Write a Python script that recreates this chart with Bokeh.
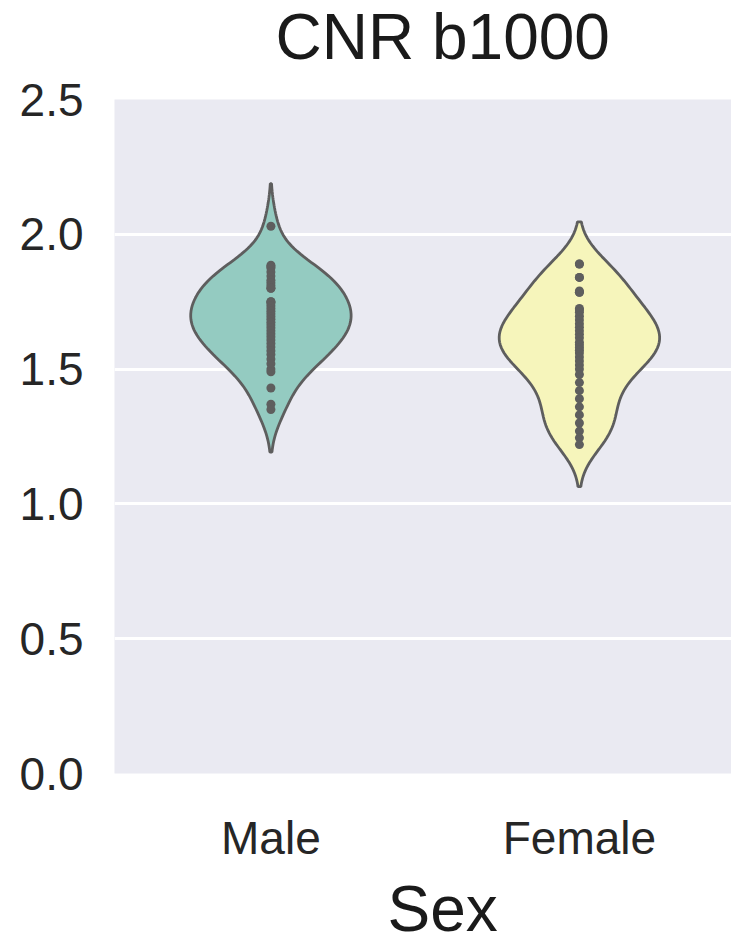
import numpy as np
from bokeh.plotting import figure
from bokeh.models import FixedTicker, NumeralTickFormatter, Title
from bokeh.embed import file_html
from bokeh.resources import INLINE

# ---------------- data ----------------
title_text = "CNR b1000"
x_label = "Sex"
categories = ["Male", "Female"]
y_ticks = [0.0, 0.5, 1.0, 1.5, 2.0, 2.5]

male_values = [2.03, 1.885, 1.88, 1.875, 1.86, 1.845, 1.83, 1.82, 1.81,
               1.80, 1.80, 1.75, 1.75, 1.745, 1.735, 1.725, 1.715,
               1.705, 1.695, 1.685, 1.674, 1.664, 1.653, 1.642, 1.631,
               1.62, 1.608, 1.595, 1.582, 1.568, 1.554, 1.537, 1.52,
               1.50, 1.49, 1.43, 1.37, 1.35]

female_values = [1.89, 1.89, 1.84, 1.84, 1.79, 1.785, 1.785,
                 1.725, 1.72, 1.711, 1.696, 1.682, 1.668, 1.655, 1.642,
                 1.629, 1.616, 1.60, 1.59, 1.58, 1.57, 1.56, 1.545, 1.53,
                 1.515, 1.50, 1.48, 1.45, 1.42, 1.39, 1.36, 1.33, 1.30,
                 1.27, 1.245, 1.22]

series = [male_values, female_values]
kde_bandwidths = [0.079, 0.078]
fill_colors = ["#94cbc1", "#f6f5bb"]
edge_gray = "#5e5e5e"


def kde(vals, bw, gridsize=100, cut=2.0):
    v = np.asarray(vals, dtype=float)
    support = np.linspace(v.min() - cut * bw, v.max() + cut * bw, gridsize)
    dens = np.exp(-0.5 * ((support[:, None] - v[None, :]) / bw) ** 2).sum(axis=1)
    return support, dens


W, H = 731, 950
p = figure(width=W, height=H,
           x_range=(-0.507, 1.493), y_range=(0, 2.5),
           output_backend="svg", toolbar_location=None,
           min_border_left=114, min_border_right=0,
           min_border_top=99, min_border_bottom=177,
           background_fill_color="#EAEAF2", border_fill_color="white",
           outline_line_color=None)

# title (outermost) with a blank spacer between it and the plot area
p.title = Title(text=title_text, align="left", offset=161, standoff=-8,
                text_font="Liberation Sans", text_font_size="64px",
                text_font_style="normal", text_color="#1a1a1a")
p.add_layout(Title(text=" ", text_font_size="14px", standoff=13), "above")

half_width = 0.26
for i, (vals, bw, col) in enumerate(zip(series, kde_bandwidths, fill_colors)):
    sup, dens = kde(vals, bw)
    w = dens / dens.max() * half_width
    xs = np.concatenate([i + w, (i - w)[::-1]])
    ys = np.concatenate([sup, sup[::-1]])
    p.patch(xs, ys, fill_color=col, line_color=edge_gray, line_width=2.8)
    p.scatter([i] * len(vals), vals, size=9, fill_color=edge_gray,
              line_color=None)

# grid
p.xgrid.grid_line_color = None
p.ygrid.grid_line_color = "white"
p.ygrid.grid_line_width = 3
p.ygrid.ticker = FixedTicker(ticks=y_ticks)

# axes
for ax in (p.xaxis, p.yaxis):
    ax.axis_line_color = None
    ax.major_tick_line_color = None
    ax.minor_tick_line_color = None
    ax.major_tick_out = 0
    ax.major_tick_in = 0
    ax.major_label_text_font = "Liberation Sans"
    ax.major_label_text_font_size = "46px"
    ax.major_label_text_color = "#262626"

p.yaxis.ticker = FixedTicker(ticks=y_ticks)
p.yaxis.formatter = NumeralTickFormatter(format="0.0")
p.yaxis.major_label_standoff = 31

p.xaxis.ticker = FixedTicker(ticks=list(range(len(categories))))
p.xaxis.major_label_overrides = {i: c for i, c in enumerate(categories)}
p.xaxis.major_label_standoff = 38

# x-axis title, shifted right as in the reference
p.add_layout(Title(text=x_label, align="left", offset=273, standoff=9,
                   text_font="Liberation Sans", text_font_size="64px",
                   text_font_style="normal", text_color="#1a1a1a"), "below")

open("out.html", "w").write(file_html(p, INLINE))
